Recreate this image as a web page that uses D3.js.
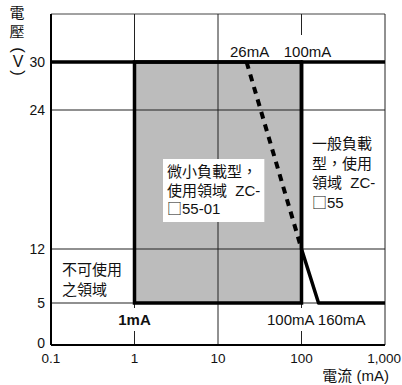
<!DOCTYPE html>
<html>
<head>
<meta charset="utf-8">
<script src="https://cdn.jsdelivr.net/npm/d3@7/dist/d3.min.js"></script>
<style>
body{margin:0;background:#fff;}
text{font-family:"Liberation Sans",Arial,"Noto Sans CJK TC",sans-serif;fill:#111;}
.cjk{font-family:"Noto Sans CJK TC","Liberation Sans",sans-serif;}
</style>
</head>
<body>
<svg id="chart" width="402" height="385"></svg>
<script>
// axis ticks
const xTicks = [0.1, 1, 10, 100, 1000];
const xTickLabels = ["0.1", "1", "10", "100", "1,000"];
const yTicks = [0, 5, 12, 24, 30];
const yTop = 36;

// micro load region (gray box), current in mA, voltage in V
const microCurrent = [1, 100];
const microVoltage = [5, 30];
// upper limit line at 30 V
const ratedLine = [[0.1, 30], [1000, 30]];
// general load boundary
const generalLine = [[100, 30], [100, 12], [160, 5], [1000, 5]];
// dashed boundary
const dashedLine = [[22, 30], [100, 12]];

const topLabels = [{x: 22, t: "26mA", dx: 3}, {x: 100, t: "100mA", dx: 6}];

function drawChart(holder){
	let svg = d3.select(holder);
	let margin = {"left": 51, "top": 14, "right": 17, "bottom": 40};
	let width = 402, height = 385;

	let x = d3.scaleLog()
		.domain([0.1, 1000])
		.range([margin.left, width - margin.right]);
	// the original y axis is not to scale, so piecewise linear
	let y = d3.scaleLinear()
		.domain([0, 5, 12, 24, 30, yTop])
		.range([345, 303, 249, 110, 62, margin.top]);

	let grid = svg.append("g").attr("class", "grid");
	grid.selectAll("line.v")
		.data(xTicks.slice(1, -1))
		.join("line")
		.attr("class", "v")
		.attr("x1", d => x(d)).attr("x2", d => x(d))
		.attr("y1", y(yTop)).attr("y2", y(0))
		.attr("stroke", "#222").attr("stroke-width", 1);
	grid.selectAll("line.h")
		.data(yTicks.slice(1))
		.join("line")
		.attr("class", "h")
		.attr("x1", x(0.1)).attr("x2", x(1000))
		.attr("y1", d => y(d)).attr("y2", d => y(d))
		.attr("stroke", "#222").attr("stroke-width", 1.2);

	// frame
	svg.append("line").attr("x1", x(0.1)).attr("x2", x(1000)).attr("y1", y(yTop)).attr("y2", y(yTop))
		.attr("stroke", "#444").attr("stroke-width", 1);
	svg.append("line").attr("x1", x(1000)).attr("x2", x(1000)).attr("y1", y(yTop)).attr("y2", y(0))
		.attr("stroke", "#222").attr("stroke-width", 1);

	// gray region
	svg.append("rect")
		.attr("x", x(microCurrent[0]))
		.attr("y", y(microVoltage[1]))
		.attr("width", x(microCurrent[1]) - x(microCurrent[0]))
		.attr("height", y(microVoltage[0]) - y(microVoltage[1]))
		.attr("fill", "#bcbcbc");
	// redraw the grid lines inside the gray area
	grid.raise();
	svg.append("rect")
		.attr("x", x(microCurrent[0]))
		.attr("y", y(microVoltage[1]))
		.attr("width", x(microCurrent[1]) - x(microCurrent[0]))
		.attr("height", y(microVoltage[0]) - y(microVoltage[1]))
		.attr("fill", "none")
		.attr("stroke", "#000").attr("stroke-width", 3.5);

	const line = d3.line().x(d => x(d[0])).y(d => y(d[1]));
	svg.append("path").attr("d", line(ratedLine))
		.attr("fill", "none").attr("stroke", "#000").attr("stroke-width", 3.5);
	svg.append("path").attr("d", line(generalLine))
		.attr("fill", "none").attr("stroke", "#000").attr("stroke-width", 3.5)
		.attr("stroke-linejoin", "round");
	svg.append("path").attr("d", line(dashedLine))
		.attr("fill", "none").attr("stroke", "#000").attr("stroke-width", 4)
		.attr("stroke-dasharray", "7,6");

	// axes
	svg.append("line").attr("x1", x(0.1)).attr("x2", x(0.1)).attr("y1", y(yTop)).attr("y2", y(0))
		.attr("stroke", "#000").attr("stroke-width", 2);
	svg.append("line").attr("x1", x(0.1)).attr("x2", x(1000)).attr("y1", y(0)).attr("y2", y(0))
		.attr("stroke", "#000").attr("stroke-width", 2);

	svg.append("g").selectAll("text")
		.data(yTicks)
		.join("text")
		.attr("x", 45).attr("y", d => d === 0 ? y(d) - 2 : y(d)).attr("dy", 5)
		.attr("text-anchor", "end").attr("font-size", 14)
		.text(d => d);
	svg.append("g").selectAll("text")
		.data(xTicks)
		.join("text")
		.attr("x", d => d === 1000 ? 401 : x(d)).attr("y", 363)
		.attr("text-anchor", d => d === 1000 ? "end" : "middle").attr("font-size", 13.5)
		.text((d, i) => xTickLabels[i]);

	// axis titles
	svg.append("text").attr("class", "cjk").attr("x", 17).attr("y", 18)
		.attr("text-anchor", "middle").attr("font-size", 15).text("電");
	svg.append("text").attr("class", "cjk").attr("x", 17).attr("y", 37)
		.attr("text-anchor", "middle").attr("font-size", 15).text("壓");
	svg.append("text").attr("x", 18).attr("y", 67)
		.attr("text-anchor", "middle").attr("font-size", 16).text("V");
	svg.append("text").attr("transform", "translate(18,50) rotate(90)")
		.attr("text-anchor", "middle").attr("dy", 5).attr("font-size", 17).text("(");
	svg.append("text").attr("transform", "translate(18,73) rotate(90)")
		.attr("text-anchor", "middle").attr("dy", 5).attr("font-size", 17).text(")");
	svg.append("text").attr("x", 389).attr("y", 381)
		.attr("text-anchor", "end").attr("font-size", 15)
		.text("電流 (mA)");

	// labels with white background
	function label(g, px, py, lines, opt){
		let lg = g.append("g");
		let t = lg.append("text")
			.attr("x", px).attr("y", py)
			.attr("font-size", opt.size || 15)
			.attr("font-weight", opt.weight || "normal")
			.attr("text-anchor", opt.anchor || "start");
		let rows = t.selectAll("tspan.row")
			.data(lines)
			.join("tspan")
			.attr("class", "row")
			.attr("x", px)
			.attr("dy", (d, i) => i === 0 ? 0 : (opt.lh || 19))
			.attr("xml:space", "preserve");
		// the box sign needs the CJK font to get its full width
		rows.each(function(d){
			let parts = d.split(/(□)/).filter(s => s.length);
			d3.select(this).selectAll("tspan")
				.data(parts)
				.join("tspan")
				.attr("class", s => s === "□" ? "cjk" : null)
				.attr("xml:space", "preserve")
				.text(s => s);
		});
		if (opt.bg){
			let b = t.node().getBBox();
			let p = opt.pad || 0;
			let pt = opt.padT !== undefined ? opt.padT : p;
			let pb = opt.padB !== undefined ? opt.padB : p;
			lg.insert("rect", "text")
				.attr("x", b.x - p).attr("y", b.y - pt)
				.attr("width", b.width + 2 * p).attr("height", b.height + pt + pb)
				.attr("fill", "#fff");
		}
	}
	let notes = svg.append("g");
	topLabels.forEach(d => label(notes, x(d.x) + d.dx, 57, [d.t], {anchor: "middle", bg: true, pad: 3, padT: 8, padB: 0}));
	label(notes, x(1), 325, ["1mA"], {anchor: "middle", bg: true, weight: "bold", pad: 3});
	label(notes, 267, 325, ["100mA 160mA"], {bg: true, pad: 3});
	label(notes, 62, 275, ["不可使用", "之領域"], {lh: 20});
	label(notes, 167, 177, ["微小負載型，", "使用領域  ZC-", "□55-01"], {bg: true, lh: 18.5, pad: 4});
	label(notes, 312, 149, ["一般負載", "型，使用", "領域  ZC-", "□55"], {lh: 19.5});
}

drawChart("#chart");
</script>
</body>
</html>
